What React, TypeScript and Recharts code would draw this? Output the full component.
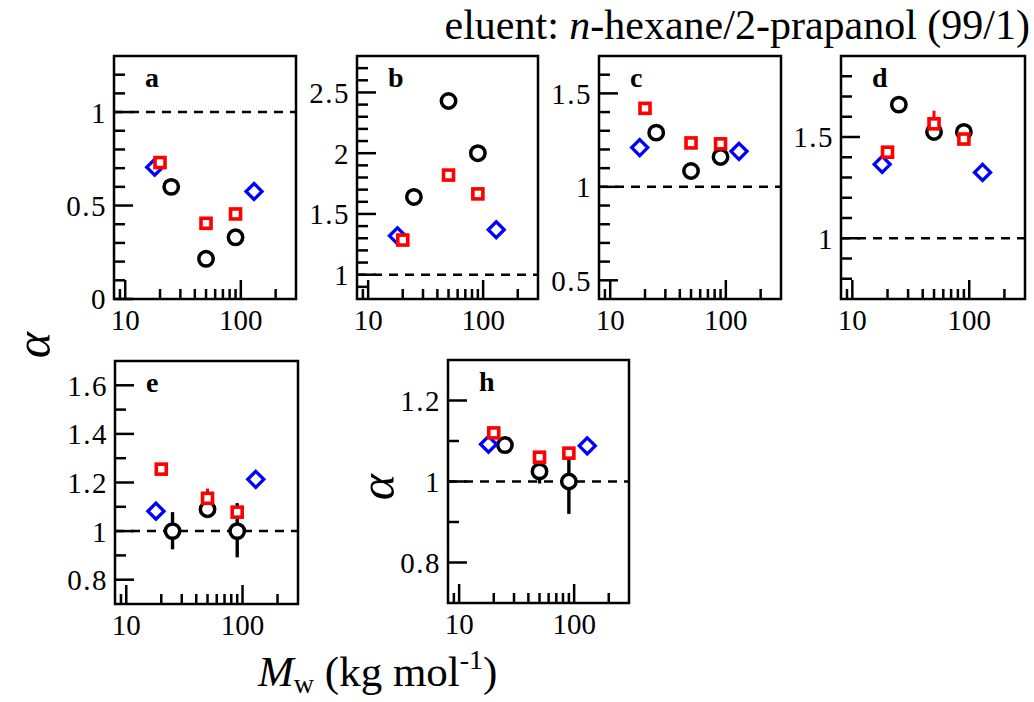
import React from "react";
import { ScatterChart, Scatter, XAxis, YAxis, ReferenceLine, ReferenceArea, ErrorBar } from "recharts";

// molar masses (kg/mol) of the three sample series
const MW_BLACK = [25, 50, 90];
const MW_RED = [20, 50, 90];
const MW_BLUE = [18, 130];

const X_TICKS = [9, 10, 20, 30, 40, 50, 60, 70, 80, 90, 100, 200];
const X_MAJOR = [10, 100];

// separation factor alpha per panel
const A_BLACK = [0.6, 0.215, 0.33];
const A_RED = [0.73, 0.405, 0.455];
const A_BLUE = [0.705, 0.575];
const A_RED_ERR = [0.01, 0.02, 0.01];

const B_BLACK = [1.64, 2.43, 2.0];
const B_RED = [1.285, 1.82, 1.665];
const B_BLUE = [1.32, 1.37];

const C_BLACK = [1.29, 1.085, 1.16];
const C_RED = [1.42, 1.235, 1.23];
const C_BLUE = [1.21, 1.19];
const C_RED_ERR = [0.03, 0.03, 0.01];

const D_BLACK = [1.66, 1.525, 1.525];
const D_RED = [1.425, 1.565, 1.49];
const D_BLUE = [1.365, 1.325];
const D_RED_ERR = [0, 0.065, 0];

const E_BLACK = [1.0, 1.09, 1.0];
const E_RED = [1.255, 1.135, 1.078];
const E_BLUE = [1.082, 1.213];
const E_BLACK_ERR: (number | number[])[] = [[0.075, 0.078], 0, [0.108, 0.115]];
const E_RED_ERR = [0, 0.04, 0.01];

const H_BLACK = [1.09, 1.025, 1.0];
const H_RED = [1.12, 1.06, 1.07];
const H_BLUE = [1.092, 1.088];
const H_BLACK_ERR: (number | number[])[] = [0, [0.03, 0.01], [0.08, 0.055]];

// y ticks (major ones get a label)
const A_Y_MAJOR = [0, 0.5, 1];
const A_Y_MINOR = [0.1, 0.2, 0.3, 0.4, 0.6, 0.7, 0.8, 0.9, 1.1, 1.2];
const B_Y_MAJOR = [1, 1.5, 2, 2.5];
const B_Y_MINOR = [0.9, 1.1, 1.2, 1.3, 1.4, 1.6, 1.7, 1.8, 1.9, 2.1, 2.2, 2.3, 2.4, 2.6, 2.7];
const C_Y_MAJOR = [0.5, 1, 1.5];
const C_Y_MINOR = [0.6, 0.7, 0.8, 0.9, 1.1, 1.2, 1.3, 1.4, 1.6];
const D_Y_MAJOR = [1, 1.5];
const D_Y_MINOR = [0.8, 0.9, 1.1, 1.2, 1.3, 1.4, 1.6, 1.7, 1.8];
const E_Y_MAJOR = [0.8, 1, 1.2, 1.4, 1.6];
const E_Y_MINOR = [0.9, 1.1, 1.3, 1.5];
const H_Y_MAJOR = [0.8, 1, 1.2];
const H_Y_MINOR = [0.9, 1.1];

const FONT = '"Liberation Serif", "Times New Roman", "DejaVu Serif", serif';
const X_DOMAIN = [8, 300];
const LW = 2.5;

const pts = (xs: number[], ys: number[], errs?: (number | number[])[]) =>
  xs.map((x, i) => ({ x, y: ys[i], err: errs ? errs[i] : 0 }));

const Circle = (p: any) => (
  <circle cx={p.cx} cy={p.cy} r={7.2} fill="#fff" stroke="#000" strokeWidth={3.5} />
);
const Square = (p: any) => (
  <rect x={p.cx - 5} y={p.cy - 5} width={10} height={10} fill="#fff" stroke="#ff0000" strokeWidth={3.6} />
);
const Diamond = (p: any) => (
  <path
    d={`M${p.cx},${p.cy - 8}L${p.cx + 8},${p.cy}L${p.cx},${p.cy + 8}L${p.cx - 8},${p.cy}Z`}
    fill="#fff"
    stroke="#0000ff"
    strokeWidth={3.3}
  />
);

const XTick = (props: any) => {
  const { x, y, payload } = props;
  const major = X_MAJOR.includes(payload.value);
  return (
    <g>
      <line x1={x} x2={x} y1={y} y2={y - (major ? 19 : 10)} stroke="#000" strokeWidth={LW} />
      {major && (
        <text x={x} y={y + 31} textAnchor="middle" fill="#000" style={{ fontFamily: FONT, fontSize: 29 }}>
          {payload.value}
        </text>
      )}
    </g>
  );
};

const makeYTick = (majors: number[]) => (props: any) => {
  const { x, y, payload } = props;
  const major = majors.includes(payload.value);
  return (
    <g>
      <line x1={x} x2={x + (major ? 19 : 11)} y1={y} y2={y} stroke="#000" strokeWidth={LW} />
      {major && (
        <text
          x={x - 7}
          y={y}
          dy="0.36em"
          textAnchor="end"
          fill="#000"
          style={{ fontFamily: FONT, fontSize: 29, letterSpacing: 1.5 }}
        >
          {String(payload.value)}
        </text>
      )}
    </g>
  );
};

type PanelProps = {
  left: number;
  top: number;
  w: number;
  h: number;
  yDomain: number[];
  yMajor: number[];
  yMinor: number[];
  black: any[];
  red: any[];
  blue: any[];
};

const Panel = ({ left, top, w, h, yDomain, yMajor, yMinor, black, red, blue }: PanelProps) => {
  const yTicks = [...yMinor, ...yMajor].sort((a, b) => a - b);
  return (
    <div style={{ position: "absolute", left: left - 60, top: top - 10 }}>
      <ScatterChart width={w + 70} height={h + 55} margin={{ top: 10, right: 10, left: 0, bottom: 0 }}>
        <XAxis
          type="number"
          dataKey="x"
          scale="log"
          domain={X_DOMAIN}
          allowDataOverflow
          ticks={X_TICKS}
          interval={0}
          tickSize={0}
          tickMargin={0}
          tickLine={false}
          axisLine={false}
          tick={XTick}
          height={45}
        />
        <YAxis
          type="number"
          dataKey="y"
          domain={yDomain}
          allowDataOverflow
          ticks={yTicks}
          interval={0}
          tickSize={0}
          tickMargin={0}
          tickLine={false}
          axisLine={false}
          tick={makeYTick(yMajor)}
          width={60}
        />
        <ReferenceArea
          x1={X_DOMAIN[0]}
          x2={X_DOMAIN[1]}
          y1={yDomain[0]}
          y2={yDomain[1]}
          fill="none"
          stroke="#000"
          strokeWidth={LW}
        />
        <ReferenceLine y={1} stroke="#000" strokeWidth={LW} strokeDasharray="9 7" />
        <Scatter data={black} shape={Circle} isAnimationActive={false}>
          <ErrorBar dataKey="err" direction="y" width={0} stroke="#000" strokeWidth={3.4} />
        </Scatter>
        <Scatter data={blue} shape={Diamond} isAnimationActive={false} />
        <Scatter data={red} shape={Square} isAnimationActive={false}>
          <ErrorBar dataKey="err" direction="y" width={0} stroke="#ff0000" strokeWidth={3} />
        </Scatter>
      </ScatterChart>
    </div>
  );
};

const PANELS = [
  { id: "a", left: 114, top: 56, w: 182, h: 243, yDomain: [0, 1.3], yMajor: A_Y_MAJOR, yMinor: A_Y_MINOR,
    black: pts(MW_BLACK, A_BLACK), red: pts(MW_RED, A_RED, A_RED_ERR), blue: pts(MW_BLUE, A_BLUE) },
  { id: "b", left: 357, top: 56, w: 181, h: 243, yDomain: [0.8, 2.8], yMajor: B_Y_MAJOR, yMinor: B_Y_MINOR,
    black: pts(MW_BLACK, B_BLACK), red: pts(MW_RED, B_RED), blue: pts(MW_BLUE, B_BLUE) },
  { id: "c", left: 599, top: 56, w: 182, h: 243, yDomain: [0.4, 1.7], yMajor: C_Y_MAJOR, yMinor: C_Y_MINOR,
    black: pts(MW_BLACK, C_BLACK), red: pts(MW_RED, C_RED, C_RED_ERR), blue: pts(MW_BLUE, C_BLUE) },
  { id: "d", left: 841, top: 56, w: 184, h: 243, yDomain: [0.7, 1.9], yMajor: D_Y_MAJOR, yMinor: D_Y_MINOR,
    black: pts(MW_BLACK, D_BLACK), red: pts(MW_RED, D_RED, D_RED_ERR), blue: pts(MW_BLUE, D_BLUE) },
  { id: "e", left: 115, top: 361, w: 183, h: 243, yDomain: [0.7, 1.7], yMajor: E_Y_MAJOR, yMinor: E_Y_MINOR,
    black: pts(MW_BLACK, E_BLACK, E_BLACK_ERR), red: pts(MW_RED, E_RED, E_RED_ERR), blue: pts(MW_BLUE, E_BLUE) },
  { id: "h", left: 448, top: 360, w: 181, h: 243, yDomain: [0.7, 1.3], yMajor: H_Y_MAJOR, yMinor: H_Y_MINOR,
    black: pts(MW_BLACK, H_BLACK, H_BLACK_ERR), red: pts(MW_RED, H_RED), blue: pts(MW_BLUE, H_BLUE) },
];

export default function App() {
  return (
    <div style={{ position: "absolute", left: 0, top: 0, width: 1034, height: 702, background: "#fff", overflow: "hidden" }}>
      {PANELS.map((p) => (
        <Panel key={p.id} {...p} />
      ))}
      <svg width={1034} height={702} style={{ position: "absolute", left: 0, top: 0, pointerEvents: "none", fontFamily: FONT }}>
        {PANELS.map((p) => (
          <text key={p.id} x={p.left + 31} y={p.top + 31} fill="#000" style={{ fontSize: 28, fontWeight: "bold" }}>
            {p.id}
          </text>
        ))}
        <text x={1030} y={39} textAnchor="end" fill="#000" style={{ fontSize: 42 }}>
          eluent: <tspan fontStyle="italic">n</tspan>-hexane/2-prapanol (99/1)
        </text>
        <text x={258} y={686} fill="#000" style={{ fontSize: 43 }}>
          <tspan fontStyle="italic">M</tspan>
          <tspan fontSize={28} dy={7}>w</tspan>
          <tspan dy={-7}> (kg mol</tspan>
          <tspan fontSize={28} dy={-17}>-1</tspan>
          <tspan dy={17}>)</tspan>
        </text>
        <text x={50} y={345} fontStyle="italic" textAnchor="middle" transform="rotate(-90 50 345)" fill="#000" style={{ fontSize: 50 }}>
          α
        </text>
        <text x={394} y={487} fontStyle="italic" textAnchor="middle" transform="rotate(-90 394 487)" fill="#000" style={{ fontSize: 50 }}>
          α
        </text>
      </svg>
    </div>
  );
}
